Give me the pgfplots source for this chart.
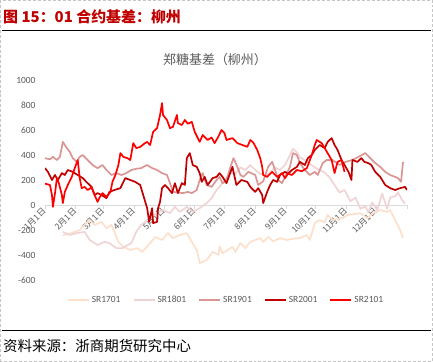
\documentclass[border=0pt]{standalone}
\usepackage{pgfplots}
\pgfplotsset{compat=1.18}
\usepackage{fontspec}
\setmainfont{Carlito}
\newfontfamily\cjk{Noto Sans CJK SC}
\definecolor{c1701}{RGB}{252,224,204}
\definecolor{c1801}{RGB}{240,212,213}
\definecolor{c1901}{RGB}{218,150,148}
\definecolor{c2001}{RGB}{192,0,0}
\definecolor{c2101}{RGB}{255,0,0}
\definecolor{txtgray}{RGB}{89,89,89}
\definecolor{axgray}{RGB}{217,217,217}
\definecolor{titlered}{RGB}{192,0,0}

\pgfplotstableread{
x y
18 -240
25 -230
35 -200
45 -120
50 -160
57 -135
62 -185
67 -160
74 -295
79 -335
86 -360
93 -345
98 -375
106 -305
111 -255
118 -280
124 -225
129 -265
136 -240
143 -225
148 -295
153 -360
156 -465
163 -440
169 -375
175 -400
176 -330
179 -385
189 -335
192 -375
197 -305
202 -345
207 -295
217 -265
220 -295
225 -255
230 -290
237 -265
244 -280
250 -270
257 -265
264 -240
267 -280
272 -145
277 -120
282 -140
285 -80
290 -120
300 -105
305 -80
318 -65
325 -105
331 -65
338 -40
345 -55
348 -40
353 -120
358 -200
361 -265
}\sra

\pgfplotstableread{
x y
18 -215
25 -240
32 -225
40 -215
45 -280
53 -320
60 -295
65 -305
72 -345
78 -345
87 -305
92 -215
97 -160
106 -105
113 -65
119 -40
126 -65
131 -15
136 -55
143 -15
149 -55
156 -25
163 15
168 55
173 120
176 145
181 200
187 260
192 250
197 300
202 280
207 320
212 280
217 250
222 230
227 260
232 300
237 280
242 320
247 400
250 450
254 420
257 380
262 360
267 330
272 300
277 280
282 260
287 220
292 160
297 100
302 120
308 30
313 60
318 -30
323 -10
326 -60
330 20
335 -40
340 90
345 -30
348 60
353 70
356 100
360 40
363 10
}\srb

\pgfplotstableread{
x y
0 375
5 365
8 385
12 360
15 385
18 505
22 455
25 425
28 375
32 345
35 385
38 400
43 360
48 320
53 295
58 320
62 280
67 240
72 255
77 240
82 255
87 280
92 290
97 295
103 320
108 295
113 280
118 255
123 240
126 175
129 105
134 100
139 95
144 105
148 95
153 120
156 200
159 255
163 160
168 145
173 200
176 225
179 175
182 185
184 225
187 305
190 375
194 305
197 240
200 225
205 265
212 240
215 160
220 190
225 305
229 345
232 280
235 200
239 175
242 225
247 305
250 415
254 400
257 335
262 280
267 240
272 265
275 240
280 335
284 360
290 360
297 320
303 345
310 360
323 415
328 375
333 335
338 305
343 265
348 240
353 225
356 215
359 185
361 345
}\src

\pgfplotstableread{
x y
0 295
3 265
7 200
10 240
13 200
17 255
20 240
23 280
28 265
33 240
38 215
43 175
47 145
50 80
53 95
57 80
62 55
65 105
70 120
76 135
81 215
86 200
91 185
96 160
99 80
103 -25
105 -135
108 -25
109 -145
113 -135
114 -25
116 25
118 135
121 160
124 135
128 95
131 175
134 95
138 175
141 160
143 375
146 415
149 320
153 305
156 255
158 185
161 225
164 160
169 215
173 225
176 255
179 225
183 175
186 240
189 305
193 160
198 200
204 185
207 145
212 105
215 135
219 80
220 15
224 105
227 160
230 200
234 185
237 240
242 265
245 250
249 280
254 305
257 345
262 320
265 375
269 400
272 440
277 480
282 455
285 505
289 535
292 480
295 440
299 360
302 320
306 265
309 200
310 360
315 345
319 375
322 345
326 335
329 320
333 265
338 225
343 160
348 135
353 120
358 135
363 145
365 120
}\srd

\pgfplotstableread{
x y
0 170
3 165
5 160
7 80
8 -15
10 90
12 215
14 175
17 80
18 15
20 105
23 160
27 225
30 295
33 360
35 215
37 135
40 145
43 120
47 140
50 80
53 25
55 60
58 95
62 65
66 105
68 185
71 240
74 320
76 415
79 385
83 375
86 360
89 495
92 455
96 465
100 490
103 505
106 480
109 585
113 615
116 720
118 815
119 720
123 680
126 615
129 625
133 720
134 655
138 640
141 680
144 650
148 665
151 585
156 505
159 560
164 520
168 540
171 495
174 535
178 600
181 575
183 520
189 535
194 495
199 480
204 465
207 520
210 500
214 440
217 375
219 305
220 240
224 225
229 265
234 225
239 255
242 215
245 250
249 240
254 280
259 270
264 295
269 400
272 480
274 520
279 495
282 455
285 415
289 360
292 255
295 345
299 360
302 265
}\sre

\begin{document}
\begin{tikzpicture}
\useasboundingbox (0,0) rectangle (433bp,362bp);
\draw[densely dashed, gray!45, line width=0.5bp] (0.5bp,0.5bp) rectangle (432.5bp,361.5bp);
\draw[black, line width=1bp] (2bp,331bp) -- (431bp,331bp);
\draw[black, line width=1bp] (2bp,31bp) -- (431bp,31bp);
\node[anchor=west, text=titlered, font=\cjk\bfseries\fontsize{15}{16}\selectfont, inner sep=0] at (3bp,345bp) {图 15：01 合约基差：柳州};
\node[anchor=west, font=\cjk\fontsize{14.5}{16}\selectfont, inner sep=0] at (3bp,16bp) {资料来源：浙商期货研究中心};
\node[text=txtgray, font=\cjk\fontsize{13}{14}\selectfont] at (215bp,302bp) {郑糖基差（柳州）};
\begin{axis}[
  at={(45bp,82bp)}, anchor=south west,
  scale only axis, width=362bp, height=200bp,
  xmin=0, xmax=365, ymin=-600, ymax=1000,
  axis x line=middle, axis y line=left,
  axis line style={-},
  x axis line style={draw=axgray, line width=0.8bp},
  y axis line style={draw=none},
  hide obscured x ticks=false, hide obscured y ticks=false,
  xtick={0,31,59,90,120,151,181,212,243,273,304,334,365},
  xticklabels={1月1日,2月1日,3月1日,4月1日,5月1日,6月1日,7月1日,8月1日,9月1日,10月1日,11月1日,12月1日,{}},
  xtick style={draw=axgray, line width=0.8bp},
  xtick align=outside, major tick length=4bp,
  xticklabel style={rotate=45, anchor=east, font=\cjk\fontsize{8.5}{9}\selectfont, text=txtgray, inner sep=1bp},
  ytick={-600,-400,...,1000},
  ytick style={draw=none},
  yticklabel style={font=\fontsize{9.5}{10}\selectfont, text=txtgray, xshift=-4bp},
  /pgf/number format/assume math mode=true,
  /pgf/number format/1000 sep={},
  legend columns=5,
  legend style={at={(0.5,-0.1)}, anchor=center, draw=none, fill=none,
    font=\fontsize{9.5}{10}\selectfont, text=txtgray,
    /tikz/every even column/.append style={column sep=10bp}},
  legend cell align=left,
  legend image code/.code={\draw[#1, line width=2bp] (0bp,0bp) -- (21bp,0bp);},
]
\addplot[c1701, line width=1.7bp, line join=round, mark=none] table {\sra};
\addplot[c1801, line width=1.7bp, line join=round, mark=none] table {\srb};
\addplot[c1901, line width=1.7bp, line join=round, mark=none] table {\src};
\addplot[c2001, line width=1.7bp, line join=round, mark=none] table {\srd};
\addplot[c2101, line width=1.7bp, line join=round, mark=none] table {\sre};
\legend{SR1701,SR1801,SR1901,SR2001,SR2101}
\end{axis}
\end{tikzpicture}
\end{document}
